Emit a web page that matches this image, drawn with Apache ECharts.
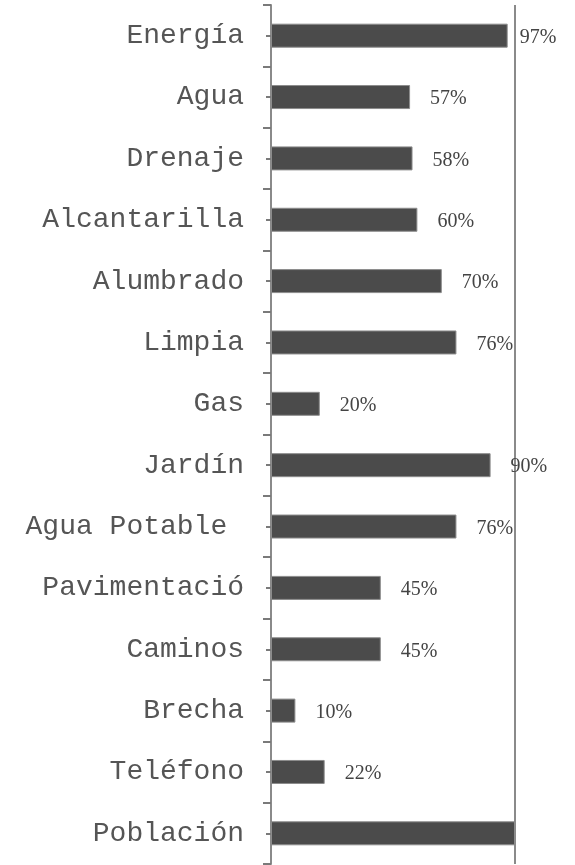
<!DOCTYPE html>
<html>
<head>
<meta charset="utf-8">
<script src="https://cdn.jsdelivr.net/npm/echarts@6/dist/echarts.min.js"></script>
<style>
  html, body { margin: 0; padding: 0; background: #ffffff; }
  #chart { width: 575px; height: 865px; }
</style>
</head>
<body>
<div id="chart"></div>
<script>
// Service coverage per category (percent)
const categories = ['Energía', 'Agua', 'Drenaje', 'Alcantarilla', 'Alumbrado', 'Limpia', 'Gas',
  'Jardín', 'Agua Potable ', 'Pavimentació', 'Caminos', 'Brecha', 'Teléfono', 'Población'];
const values = [97, 57, 58, 60, 70, 76, 20, 90, 76, 45, 45, 10, 22, 100];
// Categories whose value label is not printed
const hiddenLabels = ['Población'];

const chart = echarts.init(document.getElementById('chart'), null, { renderer: 'canvas' });

const seriesData = values.map((v, i) => {
  const item = { value: v };
  if (hiddenLabels.includes(categories[i])) {
    item.label = { show: false };
  } else if (v > 95) {
    item.label = { distance: 12 };
  }
  return item;
});

chart.setOption({
  backgroundColor: '#ffffff',
  animation: false,
  grid: { left: 271, right: 60, top: 5, bottom: 1, containLabel: false },
  xAxis: {
    type: 'value',
    min: 0,
    max: 100,
    interval: 100,
    axisLine: { show: false },
    axisTick: { show: false },
    axisLabel: { show: false },
    splitLine: { show: true, lineStyle: { color: '#8a8a8a', width: 2 } }
  },
  yAxis: [
    {
      type: 'category',
      data: categories,
      inverse: true,
      position: 'left',
      axisLine: { show: true, lineStyle: { color: '#8a8a8a', width: 2 } },
      axisTick: { show: true, alignWithLabel: false, length: 8, lineStyle: { color: '#7a7a7a', width: 2 } },
      axisLabel: {
        margin: 27,
        fontFamily: 'Liberation Mono',
        fontSize: 28,
        color: '#555555'
      },
      splitLine: { show: false }
    },
    {
      type: 'category',
      data: categories,
      inverse: true,
      position: 'left',
      axisLine: { show: false },
      axisTick: { show: true, alignWithLabel: true, length: 5, lineStyle: { color: '#7a7a7a', width: 2 } },
      axisLabel: { show: false },
      splitLine: { show: false }
    }
  ],
  series: [{
    type: 'bar',
    yAxisIndex: 0,
    data: seriesData,
    barWidth: 24,
    itemStyle: { color: '#4b4b4b', borderColor: '#8c8c8c', borderWidth: 1 },
    label: {
      show: true,
      position: 'right',
      distance: 20,
      offset: [0, 2],
      formatter: '{c}%',
      fontFamily: 'Liberation Serif',
      fontSize: 20,
      color: '#444444'
    }
  }]
});
</script>
</body>
</html>
